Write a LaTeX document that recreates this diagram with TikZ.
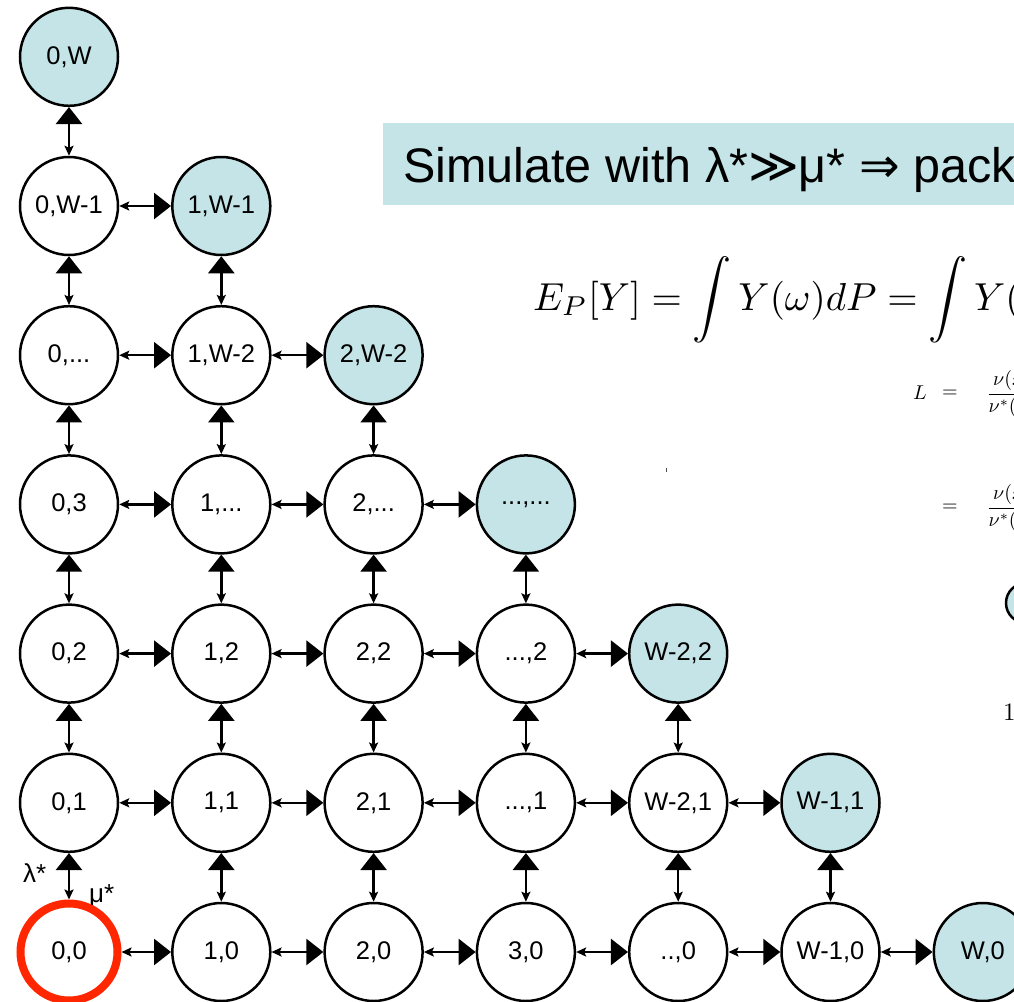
\documentclass[tikz,border=0pt]{standalone}
\usepackage{fontspec}
\newfontfamily\arialfont{Liberation Sans}
\newfontfamily\symfont{DejaVu Sans}
\usetikzlibrary{arrows.meta}
\definecolor{nodefill}{RGB}{196,228,231}
\definecolor{redring}{RGB}{255,38,0}
\begin{document}
\begin{tikzpicture}[x=1pt,y=-1pt,
  st/.style={circle, draw, line width=2.5pt, minimum size=98pt, inner sep=0pt, outer sep=1.25pt,
             font=\arialfont\fontsize{25.5}{30}\selectfont, fill=white},
  bd/.style={st, fill=nodefill},
  ring/.style={st, draw=redring, line width=8pt, minimum size=97pt, outer sep=4pt},
  conn/.style={line width=2.5pt, {Stealth[length=10pt,width=9pt,inset=2pt]}-{Triangle[length=17pt,width=26pt]}},
  lbl/.style={anchor=base west, inner sep=0pt, font=\arialfont\fontsize{26}{30}\selectfont},
  mth/.style={inner sep=0pt}]
\useasboundingbox (0,0) rectangle (1014,1001);
\clip (0,0) rectangle (1014,1001);

% title
\fill[nodefill] (383,123) rectangle (1014,205);
\node[anchor=base west, inner sep=0pt, font=\arialfont\fontsize{48.5}{56}\selectfont] (title) at (403,182)
  {Simulate with λ*{\symfont ≫}μ* {\symfont ⇒} pack};

% formulas
\node[mth, anchor=base west] (f1) at (533,310)
  {\scalebox{3.9}{$\displaystyle E_P[Y] = \int Y(\omega)dP = \int Y(\omega)dQ$}};
\node[mth, anchor=base west] (f2) at (913,399) {\scalebox{2}{$L$}};
\node[mth] (f3) at (950,394) {\scalebox{2}{$=$}};
\node[mth, anchor=west] (f4) at (986,394) {\scalebox{2}{$\displaystyle\frac{\nu(x)}{\nu^*(x)}$}};
\node[mth] (f5) at (950,508) {\scalebox{2}{$=$}};
\node[mth, anchor=west] (f6) at (986,508) {\scalebox{2}{$\displaystyle\frac{\nu(x)}{\nu^*(x)}$}};
\node[circle, draw, line width=2.5pt, fill=nodefill, minimum size=40pt] (pc) at (1026,603) {};
\node[mth, anchor=base west] (one) at (1003,720) {\scalebox{2.5}{$1$}};
\fill[black!70] (665.5,468) rectangle (666.5,472);

% rate labels
\node[lbl] (lam) at (23,882) {λ*};
\node[lbl] (mu) at (89,902) {μ*};

% column 0
\node[ring] (n-0-0) at (69,952) {0,0};
\node[st] (n-0-1) at (69,802.8) {0,1};
\node[st] (n-0-2) at (69,653.6) {0,2};
\node[st] (n-0-3) at (69,504.4) {0,3};
\node[st] (n-0-4) at (69,355.2) {0,...};
\node[st] (n-0-5) at (69,206) {0,W-1};
\node[bd] (n-0-6) at (69,56.8) {0,W};
% column 1
\node[st] (n-1-0) at (221.3,952) {1,0};
\node[st] (n-1-1) at (221.3,802.8) {1,1};
\node[st] (n-1-2) at (221.3,653.6) {1,2};
\node[st] (n-1-3) at (221.3,504.4) {1,...};
\node[st] (n-1-4) at (221.3,355.2) {1,W-2};
\node[bd] (n-1-5) at (221.3,206) {1,W-1};
% column 2
\node[st] (n-2-0) at (373.6,952) {2,0};
\node[st] (n-2-1) at (373.6,802.8) {2,1};
\node[st] (n-2-2) at (373.6,653.6) {2,2};
\node[st] (n-2-3) at (373.6,504.4) {2,...};
\node[bd] (n-2-4) at (373.6,355.2) {2,W-2};
% column 3
\node[st] (n-3-0) at (525.9,952) {3,0};
\node[st] (n-3-1) at (525.9,802.8) {...,1};
\node[st] (n-3-2) at (525.9,653.6) {...,2};
\node[bd] (n-3-3) at (525.9,504.4) {...,...};
% column 4
\node[st] (n-4-0) at (678.2,952) {..,0};
\node[st] (n-4-1) at (678.2,802.8) {W-2,1};
\node[bd] (n-4-2) at (678.2,653.6) {W-2,2};
% column 5
\node[st] (n-5-0) at (830.5,952) {W-1,0};
\node[bd] (n-5-1) at (830.5,802.8) {W-1,1};
% column 6
\node[bd] (n-6-0) at (982.8,952) {W,0};

% horizontal connectors
\foreach \j in {0,...,5}{
  \pgfmathtruncatemacro\m{5-\j}
  \foreach \i in {0,...,\m}{
    \pgfmathtruncatemacro\k{\i+1}
    \draw[conn] (n-\i-\j) -- (n-\k-\j);
  }
}
% vertical connectors
\foreach \i in {0,...,5}{
  \pgfmathtruncatemacro\m{5-\i}
  \foreach \j in {0,...,\m}{
    \pgfmathtruncatemacro\k{\j+1}
    \draw[conn] (n-\i-\j) -- (n-\i-\k);
  }
}
\end{tikzpicture}
\end{document}
